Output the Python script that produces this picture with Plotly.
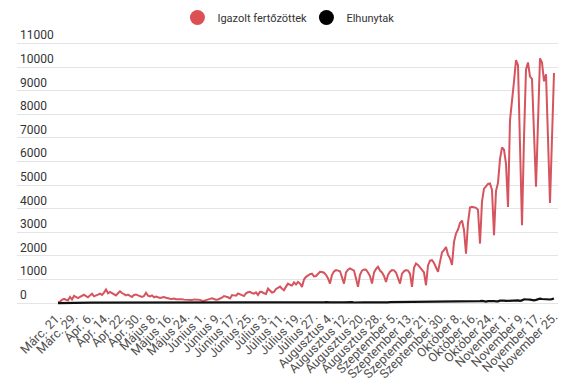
import plotly.graph_objects as go

# Daily confirmed cases (index 0 = Márc. 21, one day missing in late September)
confirmed = [
    40, 66, 143, 186, 144, 123, 263, 160, 308, 263, 217,
    264, 320, 356, 302, 250, 330, 400,
    290, 340, 360, 400, 350, 450, 580,
    420, 480, 430, 360, 330, 420, 500,
    430, 380, 330, 360, 310, 260, 350,
    370, 330, 300, 260, 300, 440, 320,
    290, 330, 250, 280, 240, 220, 240,
    260, 230, 200, 190, 180, 195, 170,
    180, 160, 170, 150, 140, 130, 150,
    130, 160, 150, 170, 140, 100, 95,
    130, 170, 180, 210, 180, 150, 155,
    190, 230, 300, 280, 250, 200, 340,
    330, 320, 410, 390, 340, 300, 420,
    460, 480, 430, 400, 460, 350, 480,
    470, 420, 390, 620, 550, 450, 480,
    600, 650, 700, 610, 550, 700, 830,
    780, 750, 880, 790, 900, 830, 690,
    1000, 1115, 1180, 1230, 1250, 1130, 1150,
    1250, 1330, 1320, 1290, 1200, 1050, 830,
    1200, 1340, 1400, 1380, 1350, 1100, 830,
    1300, 1420, 1470, 1430, 1380, 1050, 690,
    1200, 1380, 1430, 1420, 1300, 1150, 830,
    1300, 1450, 1540, 1380, 1300, 1150, 900,
    1200, 1330, 1400, 1390, 1300, 1100, 830,
    1250, 1350, 1400, 1380, 1250, 690,
    1500, 1680, 1620, 1500, 1400, 1300, 760,
    1600, 1800, 1820, 1700, 1500, 1330,
    1750, 2150, 2250, 2380, 2050, 1900, 1620,
    2600, 2950, 3120, 3400, 3500, 3100, 2100,
    3400, 4050, 4080, 4070, 4040, 3950, 2525,
    4300, 4850, 4950, 5050, 5070, 4800, 2880,
    4750, 5100, 6100, 6600, 6500, 5900, 4080,
    7750, 8500, 9400, 10300, 10080, 6700, 3300,
    7000, 9900, 10200, 9600, 9500, 7200, 4930,
    7650, 10370, 10200, 9400, 9700, 7000, 4250,
    7000, 9750,
]

deaths = [
    3, 6, 5, 5, 6, 5, 10, 7, 12, 16, 17,
    16, 10, 25, 14, 18, 24, 23, 20, 20, 25, 26, 20, 27, 30, 22, 23, 21, 15, 25,
    25, 20, 25, 30, 24, 18, 20, 23, 19, 16, 17,
    12, 19, 17, 16, 13, 14, 18, 10, 15, 11, 11, 7, 15, 16, 12, 13, 10, 13, 8, 9,
    7, 10, 12, 9, 6, 7, 9, 10, 8, 11, 5,
    8, 9, 7, 12, 10, 8, 7, 6, 7, 10, 9, 11, 8, 10, 11, 14, 9, 12, 10, 15,
    12, 14, 13, 11, 15, 17, 21, 14, 20, 22,
    17, 19, 15, 14, 22, 19, 21, 23, 20, 18, 21, 16, 23, 26, 22, 24, 21, 25, 27, 25,
    30, 32, 28, 30, 27, 22, 36, 30, 34, 33, 29,
    35, 40, 28, 32, 38, 43, 30, 26, 33, 35, 32, 42, 35, 37, 40, 28, 36, 40, 39, 41,
    38, 33, 30, 36, 35, 37, 46, 40, 34, 30, 38,
    35, 32, 41, 42, 38, 40, 39, 36, 40, 43, 45, 38, 37, 39, 45, 47, 41, 40, 48, 48,
    46, 50, 52, 44, 40, 49, 55, 60, 58,
    65, 70, 60, 50, 55, 72, 80, 70, 66, 60, 61, 64, 75, 85, 80, 72, 68, 74, 90, 100,
    72, 68, 85, 95, 105, 92, 80, 75, 105, 120, 110,
    95, 100, 125, 132, 140, 130, 120, 100, 115, 165, 148, 155, 150, 130, 120, 142,
    168, 190, 176, 165, 152, 140, 155, 170, 195,
]

tick_labels = [
    "Márc. 21.", "Márc. 29.", "Ápr. 6.", "Ápr. 14.", "Ápr. 22.", "Ápr. 30.",
    "Május 8.", "Május 16.", "Május 24.", "Június 1.", "Június 9.", "Június 17.",
    "Június 25.", "Július 3.", "Július 11.", "Július 19.", "Július 27.",
    "Augusztus 4.", "Augusztus 12.", "Augusztus 20.", "Augusztus 28.",
    "Szeptember 5.", "Szeptember 13.", "Szeptember 21.", "Szeptember 30.",
    "Október 8.", "Október 16.", "Október 24.", "November 1.", "November 9.",
    "November 17.", "November 25.",
]
tick_step = 8

series_names = ["Igazolt fertőzöttek", "Elhunytak"]
y_ticks = list(range(0, 11001, 1000))

n = min(len(confirmed), len(deaths))
x = list(range(n))
tickvals = [i * tick_step for i in range(len(tick_labels))]

RED = "#d6545e"
BLACK = "#111111"

fig = go.Figure()
fig.add_trace(go.Scatter(x=x, y=confirmed[:n], mode="lines",
                         line=dict(color=RED, width=2), showlegend=False,
                         name=series_names[0]))
fig.add_trace(go.Scatter(x=x, y=deaths[:n], mode="lines",
                         line=dict(color=BLACK, width=2.2), showlegend=False,
                         name=series_names[1]))
# legend entries as circles
fig.add_trace(go.Scatter(x=[None], y=[None], mode="markers", name=series_names[0],
                         marker=dict(color="#dc4f55", size=15, symbol="circle")))
fig.add_trace(go.Scatter(x=[None], y=[None], mode="markers", name=series_names[1],
                         marker=dict(color="#000000", size=15, symbol="circle")))

fig.update_layout(
    width=575, height=387,
    margin=dict(l=9, r=25, t=18.5, b=89.2, autoexpand=False),
    paper_bgcolor="white", plot_bgcolor="white",
    font=dict(family="Roboto, Arial, sans-serif", color="#333333", size=12),
    legend=dict(orientation="h", x=0.535, xanchor="center", y=1.034, yanchor="middle",
                font=dict(size=11, color="#333333"), itemsizing="trace",
                itemwidth=30, entrywidth=84, bgcolor="rgba(0,0,0,0)"),
    xaxis=dict(range=[-20.5, 250], tickmode="array", tickvals=tickvals,
               ticktext=tick_labels, tickangle=-45, showgrid=False,
               zeroline=False, showline=False, ticks="",
               tickfont=dict(size=12.5, color="#505050")),
    yaxis=dict(range=[-120, 11700], tickmode="array", tickvals=y_ticks,
               ticktext=[str(v) for v in y_ticks], showgrid=True,
               gridcolor="#e4e4e4", gridwidth=1, zeroline=False, showline=False,
               ticklabelposition="inside top", ticks="",
               tickfont=dict(size=12, color="#333333")),
    hovermode=False,
)

fig.write_html("out.html")
